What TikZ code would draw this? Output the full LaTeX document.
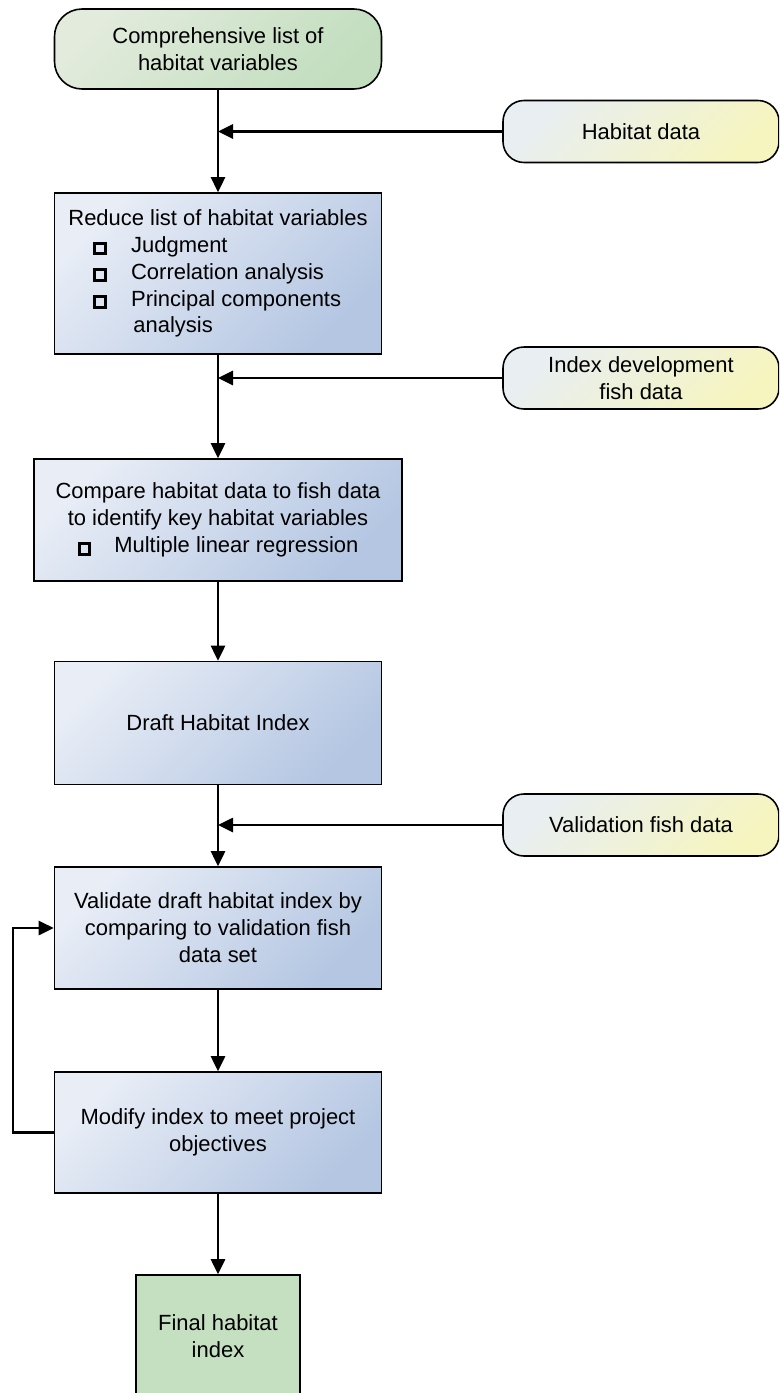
\documentclass[tikz,border=0pt]{standalone}
\usepackage{fontspec}
\setmainfont{Liberation Sans}
\usetikzlibrary{arrows.meta}

\definecolor{boxL}{HTML}{E8EDF6}
\definecolor{boxD}{HTML}{B4C6E2}
\definecolor{termL}{HTML}{E2EBDC}
\definecolor{termD}{HTML}{C2DEBF}
\definecolor{dataL}{HTML}{E8EEF2}
\definecolor{dataD}{HTML}{F6F5C0}
\definecolor{finalC}{HTML}{C5E0C1}

\newcommand{\sqbox}{\setlength{\fboxsep}{0pt}\setlength{\fboxrule}{1.7pt}\fbox{\rule{0pt}{4.4pt}\hspace{4.4pt}}}

\begin{document}
\begin{tikzpicture}[>={Triangle[length=3mm,width=2.8mm]},
	flow/.style={line width=1.5pt},
	box/.style={draw,line width=0.9pt,top color=boxL,bottom color=boxD,shading angle=45,
		minimum width=6.54cm,font=\fontsize{12.5}{15.3}\selectfont},
	term/.style={draw,line width=0.9pt,rounded corners=0.55cm,top color=termL,bottom color=termD,
		shading angle=45,minimum width=6.54cm,minimum height=1.6cm,align=center,font=\fontsize{12.5}{15.3}\selectfont},
	datain/.style={draw,line width=0.9pt,rounded corners=0.42cm,top color=dataL,bottom color=dataD,
		shading angle=45,minimum width=5.52cm,minimum height=1.24cm,align=center,font=\fontsize{12.5}{15.3}\selectfont}]
	  \useasboundingbox (0,0) rectangle (15.58,-27.86);
	  \clip (0,0) rectangle (15.58,-27.86);
	  \node[term] (list) at (4.36,-0.98) {Comprehensive list of\\habitat variables};
	  \node[datain] (hdata) at (12.82,-2.63) {Habitat data};
	  \node[box,minimum height=3.22cm,align=left] (reduce) at (4.36,-5.47) {Reduce list of habitat variables\\
		\hspace*{0.5cm}\sqbox\hspace{0.48cm}Judgment\\
		\hspace*{0.5cm}\sqbox\hspace{0.48cm}Correlation analysis\\
		\hspace*{0.5cm}\sqbox\hspace{0.48cm}Principal components\\
		\hspace*{1.3cm}analysis};
	  \node[datain] (idata) at (12.82,-7.56) {Index development\\fish data};
	  \node[box,minimum width=7.36cm,minimum height=2.44cm,align=center] (compare) at (4.36,-10.4) {Compare habitat data to fish data\\
		to identify key habitat variables\\
		\sqbox\hspace{0.46cm}Multiple linear regression};
	  \node[box,minimum height=2.46cm] (draft) at (4.36,-14.46) {Draft Habitat Index};
	  \node[datain] (vdata) at (12.82,-16.5) {Validation fish data};
	  \node[box,minimum height=2.44cm,align=center] (valid) at (4.36,-18.56) {Validate draft habitat index by\\comparing to validation fish\\data set};
	  \node[box,minimum height=2.42cm,align=center] (modify) at (4.36,-22.65) {Modify index to meet project\\objectives};
	  \node[draw,line width=0.9pt,fill=finalC,minimum width=3.28cm,minimum height=3.2cm,align=center,
		font=\fontsize{12.5}{15.3}\selectfont] (final) at (4.36,-27.1) {Final habitat\\index\\[0.22cm]};
	  \coordinate (j1) at (4.36,-2.63);
	  \coordinate (j2) at (4.36,-7.56);
	  \coordinate (j3) at (4.36,-16.5);
	  \coordinate (loop) at (0.26,-22.65);
	  \draw[flow,->] (list) -- (reduce);
	  \draw[flow,->] (hdata) -- (j1);
	  \draw[flow,->] (reduce) -- (compare);
	  \draw[flow,->] (idata) -- (j2);
	  \draw[flow,->] (compare) -- (draft);
	  \draw[flow,->] (draft) -- (valid);
	  \draw[flow,->] (vdata) -- (j3);
	  \draw[flow,->] (valid) -- (modify);
	  \draw[flow,->] (modify) -- (final);
	  \draw[flow,->] (modify.west) -- (loop) |- (valid.west);
	\end{tikzpicture}
\end{document}
